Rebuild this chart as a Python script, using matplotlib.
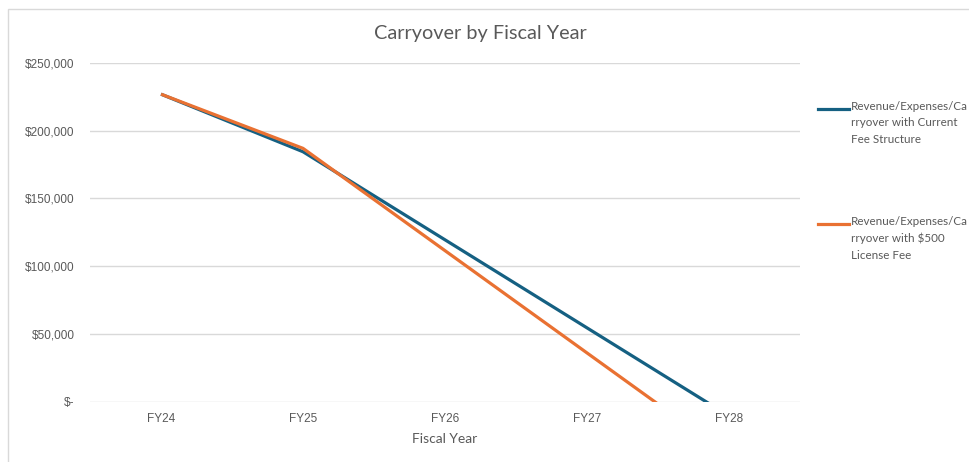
import numpy as np
import matplotlib.pyplot as plt
from matplotlib.lines import Line2D
from matplotlib.patches import Rectangle
from matplotlib.ticker import FuncFormatter

years = ["FY24", "FY25", "FY26", "FY27", "FY28"]
current_fee = [227000, 184500, 119500, 54500, -10500]
license_fee = [227000, 187000, 111500, 36000, -39500]
labels = ["Revenue/Expenses/Ca\nrryover with Current\nFee Structure",
          "Revenue/Expenses/Ca\nrryover with $500\nLicense Fee"]
colors = ["#156082", "#E97132"]

W, H = 969, 462
fig = plt.figure(figsize=(W / 100, H / 100), dpi=100)
ax = fig.add_axes([90 / W, (H - 401.7) / H, 710 / W, 338.7 / H])

x = np.arange(len(years))
for vals, c in zip([current_fee, license_fee], colors):
    ax.plot(x, vals, color=c, lw=2.3, solid_capstyle="butt")

ax.set_xlim(-0.5, len(years) - 0.5)
ax.set_ylim(0, 250000)
ax.set_yticks(np.arange(0, 250001, 50000))
ax.yaxis.set_major_formatter(FuncFormatter(lambda v, p: "$-" if v == 0 else f"${v:,.0f}"))
ax.set_xticks(x)
ax.set_xticklabels(years)
ax.grid(axis="y", color="#d9d9d9", lw=1)
ax.set_axisbelow(True)
for s in ax.spines.values():
    s.set_visible(False)
ax.tick_params(length=0, colors="#595959", labelsize=8.5)
ax.tick_params(axis="x", pad=8)
ax.tick_params(axis="y", pad=11)
for t in ax.get_yticklabels() + ax.get_xticklabels():
    t.set_fontfamily("Liberation Sans")
ax.set_xlabel("Fiscal Year", color="#595959", fontsize=10, family="Lato", labelpad=6)

fig.text(480 / W, 1 - 33 / H, "Carryover by Fiscal Year", ha="center", va="center",
         fontsize=14.3, color="#595959", family="Lato")

# legend drawn by hand so the line sits next to the first text line
for i, (lab, c) in enumerate(zip(labels, colors)):
    yy = 1 - (109 + 115 * i) / H
    fig.add_artist(Line2D([818 / W, 849 / W], [yy, yy], color=c, lw=2.3, transform=fig.transFigure))
    fig.text(851 / W, yy + 8 / H, lab, ha="left", va="top", fontsize=8.4,
             color="#595959", family="Lato", linespacing=1.6)

fig.add_artist(Rectangle((8 / W, -0.1), 1.2, 1 - 9 / H + 0.1, transform=fig.transFigure,
                         fill=False, ec="#d9d9d9", lw=1))

fig.savefig("out.png", dpi=100)
